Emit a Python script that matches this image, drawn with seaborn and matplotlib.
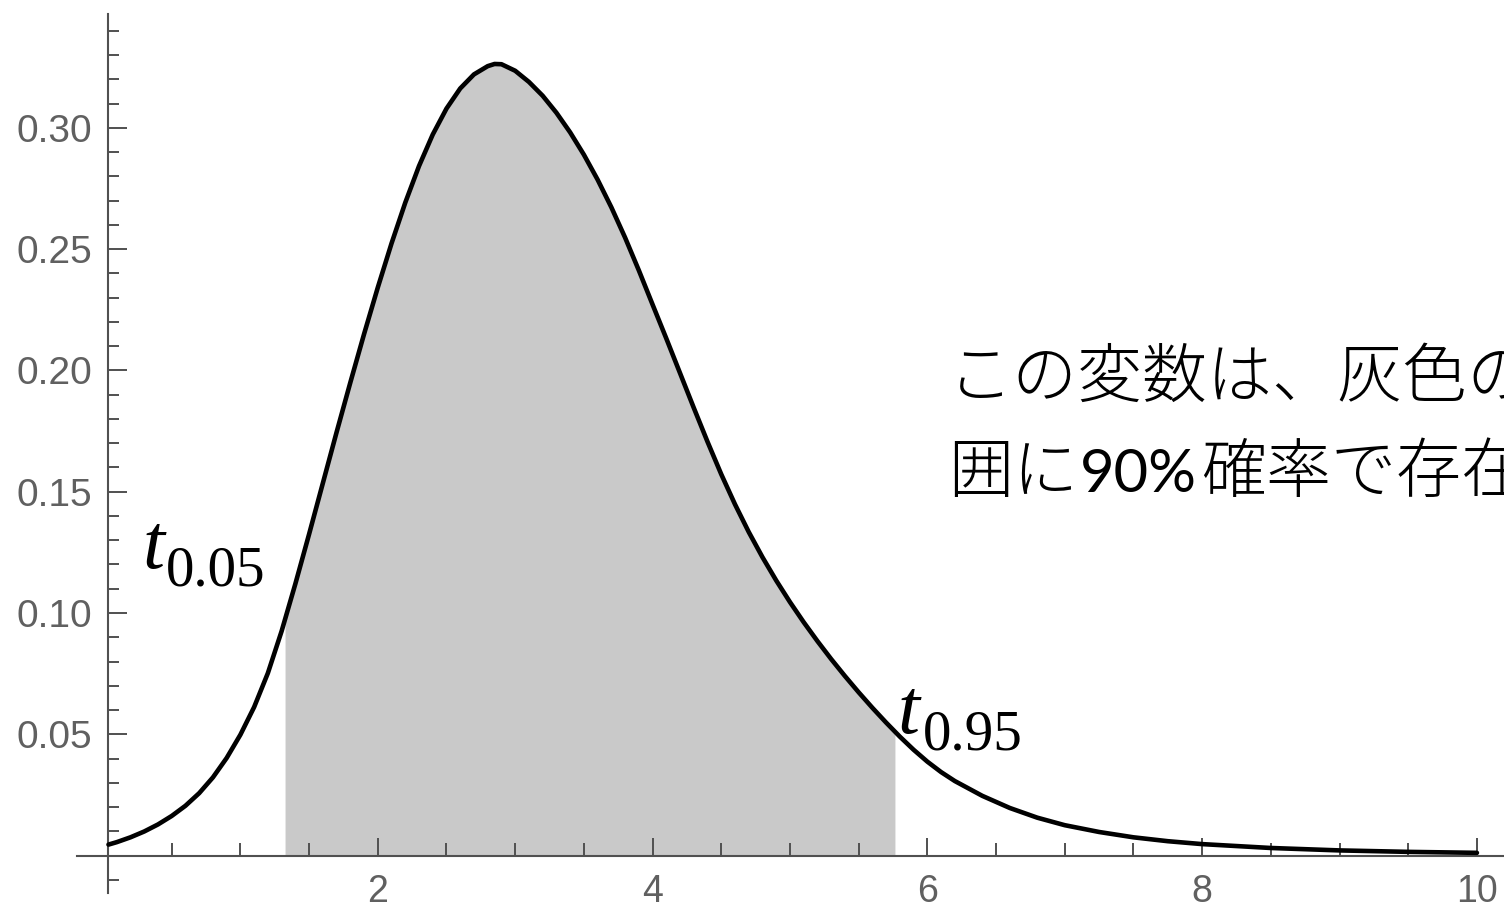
import matplotlib
matplotlib.use("Agg")
import matplotlib.pyplot as plt
import seaborn as sns
import pandas as pd

# ---- data ----
x_vals = [0.04, 0.1, 0.2, 0.3, 0.4, 0.5, 0.6, 0.7, 0.8, 0.9,
          1.0, 1.1, 1.2, 1.3, 1.4, 1.5, 1.6, 1.7, 1.8, 1.9,
          2.0, 2.1, 2.2, 2.3, 2.4, 2.5, 2.6, 2.7, 2.8, 2.85, 2.9,
          3.0, 3.1, 3.2, 3.3, 3.4, 3.5, 3.6, 3.7, 3.8, 3.9,
          4.0, 4.1, 4.2, 4.3, 4.4, 4.5, 4.6, 4.7, 4.8, 4.9,
          5.0, 5.1, 5.2, 5.3, 5.4, 5.5, 5.6, 5.7, 5.8, 5.9,
          6.0, 6.1, 6.2, 6.4, 6.6, 6.8, 7.0, 7.25, 7.5, 7.75,
          8.0, 8.5, 9.0, 9.5, 10.0]
density = [0.0045, 0.0055, 0.0075, 0.0099, 0.0128, 0.0163, 0.0205, 0.0257, 0.0322, 0.0402,
           0.0498, 0.0612, 0.0752, 0.0925, 0.1120, 0.1325, 0.1535, 0.1745, 0.1950, 0.2150,
           0.2342, 0.2524, 0.2692, 0.2843, 0.2973, 0.3080, 0.3163, 0.3221, 0.3255, 0.3264, 0.3263,
           0.3236, 0.3190, 0.3133, 0.3063, 0.2982, 0.2890, 0.2787, 0.2673, 0.2548, 0.2413,
           0.2272, 0.2132, 0.1989, 0.1846, 0.1706, 0.1572, 0.1448, 0.1334, 0.1230, 0.1134,
           0.1045, 0.0962, 0.0884, 0.0810, 0.0740, 0.0673, 0.0609, 0.0548, 0.0490, 0.0436,
           0.0387, 0.0344, 0.0307, 0.0246, 0.0196, 0.0156, 0.0125, 0.0097, 0.0075, 0.0059,
           0.0047, 0.0031, 0.0021, 0.0015, 0.0011]

t05, t95 = 1.325, 5.764
t05_density, t95_density = 0.0973, 0.0511

x_major = [2, 4, 6, 8, 10]
x_major_labels = ["2", "4", "6", "8", "10"]
x_minor = [0.5, 1, 1.5, 2.5, 3, 3.5, 4.5, 5, 5.5, 6.5, 7, 7.5, 8.5, 9, 9.5]
y_major = [0.05, 0.10, 0.15, 0.20, 0.25, 0.30]
y_major_labels = ["0.05", "0.10", "0.15", "0.20", "0.25", "0.30"]
y_minor = [-0.01, 0.01, 0.02, 0.03, 0.04, 0.06, 0.07, 0.08, 0.09, 0.11, 0.12, 0.13, 0.14,
           0.16, 0.17, 0.18, 0.19, 0.21, 0.22, 0.23, 0.24, 0.26, 0.27, 0.28, 0.29,
           0.31, 0.32, 0.33, 0.34]

t_symbol = "t"
sub_low = "0.05"
sub_high = "0.95"
note_line1 = "この変数は、灰色の"
note_line2_a = "囲に"
note_line2_b = "90%"
note_line2_c = "確率で存在"

# ---- style ----
sns.set_theme(style="white")
plt.rcParams["font.family"] = ["Liberation Sans", "DejaVu Sans"]

W, H = 1504, 909
fig = plt.figure(figsize=(W / 100, H / 100), dpi=100)
ax = fig.add_axes([0, 0, 1, 1])
ax.set_facecolor("white")

df = pd.DataFrame({"x": x_vals, "density": density})

# shaded 90% region
fill = df[(df.x > t05) & (df.x < t95)]
fx = [t05] + list(fill.x) + [t95]
fy = [t05_density] + list(fill.density) + [t95_density]
ax.fill_between(fx, 0, fy, color="#c9c9c9", linewidth=0, zorder=1)

sns.lineplot(data=df, x="x", y="density", ax=ax, color="black",
             linewidth=3.3, zorder=3)

ax.set_xlim(-0.7496, 10.197)
ax.set_ylim(-0.02206, 0.35278)
ax.set_xlabel("")
ax.set_ylabel("")

axis_color = "#505050"
for s in ["top", "right"]:
    ax.spines[s].set_visible(False)
ax.spines["left"].set_position(("data", 0.036))
ax.spines["bottom"].set_position(("data", 0.0))
ax.spines["left"].set_bounds(-0.0155, 0.347)
ax.spines["bottom"].set_bounds(-0.19, 10.4)
for s in ["left", "bottom"]:
    ax.spines[s].set_color(axis_color)
    ax.spines[s].set_linewidth(1.5)
    ax.spines[s].set_zorder(2)

ax.set_xticks(x_major, labels=x_major_labels)
ax.set_xticks(x_minor, minor=True)
ax.set_yticks(y_major, labels=y_major_labels)
ax.set_yticks(y_minor, minor=True)

lab_col = "#606060"
ax.tick_params(which="both", bottom=True, left=True, top=False, right=False)
ax.tick_params(axis="x", which="major", direction="in", length=13, width=1.4,
               color=axis_color, pad=13.5, labelsize=27, labelcolor=lab_col)
ax.tick_params(axis="x", which="minor", direction="in", length=9.4, width=1.4,
               color=axis_color)
ax.tick_params(axis="y", which="major", direction="in", length=13.7, width=1.4,
               color=axis_color, pad=11.5, labelsize=28, labelcolor=lab_col)
ax.tick_params(axis="y", which="minor", direction="in", length=8, width=1.4,
               color=axis_color)
ax.xaxis.set_zorder(2)
ax.yaxis.set_zorder(2)


def fig_xy(px, py):
    return px / W, 1 - py / H


serif = ["Liberation Serif", "DejaVu Serif"]
# t_0.05
fig.text(*fig_xy(143, 568), t_symbol, fontsize=57, family=serif, style="italic",
         ha="left", va="baseline", color="black", zorder=5)
fig.text(*fig_xy(166, 585), sub_low, fontsize=41, family=serif,
         ha="left", va="baseline", color="black", zorder=5)
# t_0.95
fig.text(*fig_xy(898, 733), t_symbol, fontsize=57, family=serif, style="italic",
         ha="left", va="baseline", color="black", zorder=5)
fig.text(*fig_xy(923, 750), sub_high, fontsize=41, family=serif,
         ha="left", va="baseline", color="black", zorder=5)

jp_family = ["Noto Sans CJK JP", "DejaVu Sans"]
jp_size = 46.8
fig.text(*fig_xy(948, 397), note_line1, fontsize=jp_size, family=jp_family,
         fontweight="light", ha="left", va="baseline", color="black")
fig.text(*fig_xy(948, 492), note_line2_a, fontsize=jp_size, family=jp_family,
         fontweight="light", ha="left", va="baseline", color="black")
fig.text(*fig_xy(1080, 492), note_line2_b, fontsize=43, family=["Lato", "DejaVu Sans"],
         ha="left", va="baseline", color="black")
fig.text(*fig_xy(1201, 492), note_line2_c, fontsize=jp_size, family=jp_family,
         fontweight="light", ha="left", va="baseline", color="black")

fig.savefig("out.png", dpi=100)
